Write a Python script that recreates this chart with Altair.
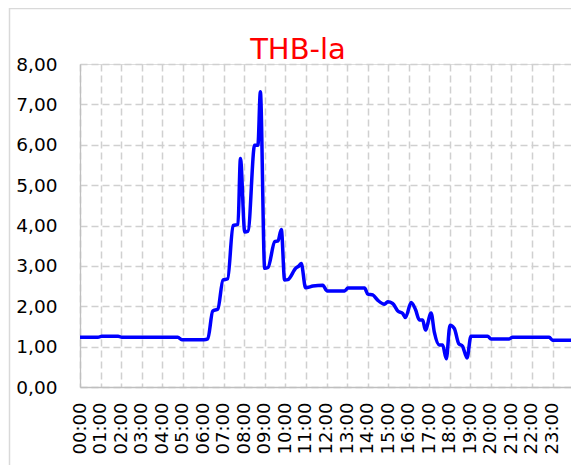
import altair as alt
import pandas as pd

# hour-of-day positions and values
hours = [0.00, 0.87, 1.07, 1.85, 2.04, 4.76, 4.96, 6.03, 6.22, 6.46, 6.71, 6.96, 7.19,
         7.45, 7.69, 7.81, 8.02, 8.18, 8.50, 8.66, 8.78, 8.99, 9.15, 9.48, 9.64, 9.80,
         9.96, 10.12, 10.50, 10.66, 10.77, 10.98, 11.34, 11.82, 12.02, 12.88, 13.04,
         13.85, 14.01, 14.25, 14.49, 14.82, 14.98, 15.22, 15.47, 15.71, 15.84, 16.12,
         16.33, 16.52, 16.68, 16.81, 17.09, 17.25, 17.49, 17.65, 17.83, 18.01, 18.22,
         18.43, 18.62, 18.84, 19.03, 19.84, 20.01, 20.89, 21.05, 22.84, 23.00, 23.89]
values = [1.23, 1.23, 1.26, 1.26, 1.23, 1.23, 1.17, 1.17, 1.19, 1.88, 1.93, 2.65, 2.68,
          4.00, 4.03, 5.66, 3.84, 3.86, 5.99, 5.99, 7.31, 2.94, 2.96, 3.60, 3.62, 3.90,
          2.65, 2.66, 2.94, 3.00, 3.06, 2.46, 2.50, 2.52, 2.38, 2.38, 2.45,
          2.45, 2.30, 2.28, 2.15, 2.05, 2.11, 2.07, 1.88, 1.82, 1.72, 2.09,
          1.92, 1.66, 1.66, 1.41, 1.83, 1.35, 1.04, 1.04, 0.70, 1.53, 1.45,
          1.08, 1.01, 0.72, 1.26, 1.26, 1.19, 1.19, 1.23, 1.23, 1.16, 1.16]

hour_ticks = list(range(24))
hour_labels = [f"{h:02d}:00" for h in hour_ticks]
y_ticks = [0, 1, 2, 3, 4, 5, 6, 7, 8]
title_text = ["THB-la"]

df = pd.DataFrame({"hour": hours, "value": values})

label_expr = "[" + ",".join(f"'{l}'" for l in hour_labels) + "][round(datum.value)]"

FONT = "DejaVu Sans"
GRID = "#d0d0d0"
FRAME = "#d9d9d9"

line = alt.Chart(df).mark_line(
    color="#0000ff", strokeWidth=3.5, interpolate="monotone",
    strokeJoin="round", strokeCap="round", clip=True
).encode(
    x=alt.X("hour:Q",
            scale=alt.Scale(domain=[0, 23.9], nice=False, zero=False),
            axis=alt.Axis(values=hour_ticks, labelExpr=label_expr, labelAngle=270,
                          labelAlign="right", labelBaseline="middle",
                          labelPadding=15, ticks=False, title=None,
                          labelFont=FONT, labelFontSize=18, labelColor="#000000",
                          domainColor="#bfbfbf", domainWidth=1.3,
                          grid=True, gridColor=GRID, gridDash=[7, 4], gridWidth=1.5,
                          labelOverlap=False, labelFlush=False)),
    y=alt.Y("value:Q",
            scale=alt.Scale(domain=[0, 8], nice=False),
            axis=alt.Axis(values=y_ticks,
                          labelExpr="replace(format(datum.value, '.2f'), '.', ',')",
                          ticks=False, labelPadding=23, title=None,
                          labelFont=FONT, labelFontSize=18.5, labelColor="#000000",
                          domainColor="#bfbfbf", domainWidth=1.3,
                          grid=True, gridColor=GRID, gridDash=[7, 4], gridWidth=1.5)),
)

# chart title drawn as text
title = alt.Chart(pd.DataFrame({"t": title_text})).mark_text(
    font=FONT, fontSize=29, color="#ff0000", align="center", baseline="alphabetic"
).encode(text="t:N", x=alt.value(218), y=alt.value(-5))

# light frame around the whole chart area (decoration)
frame_left = alt.Chart(pd.DataFrame({"t": title_text})).mark_rule(
    color=FRAME, strokeWidth=1.5, clip=False
).encode(x=alt.value(-70.5), y=alt.value(-56), y2=alt.value(420))
frame_top = alt.Chart(pd.DataFrame({"t": title_text})).mark_rule(
    color=FRAME, strokeWidth=1.5, clip=False
).encode(x=alt.value(-71), x2=alt.value(520), y=alt.value(-55.5))

chart = alt.layer(frame_left, frame_top, line, title).properties(
    width=491, height=323,
    padding={"left": 72, "top": 56, "right": 0, "bottom": 78},
    autosize=alt.AutoSizeParams(type="none"),
).configure_view(stroke=None).configure(background="#ffffff")

chart.save("out.html", embed_options={"renderer": "svg", "actions": False})
